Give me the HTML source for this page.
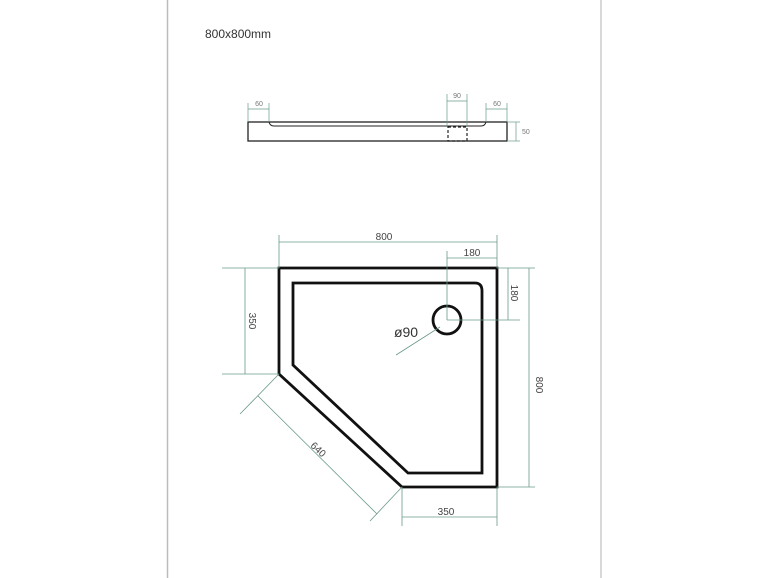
<!DOCTYPE html>
<html><head><style>body{margin:0;background:#fff}svg{display:block}</style></head><body>
<svg width="770" height="578" viewBox="0 0 770 578" xmlns="http://www.w3.org/2000/svg" font-family="Liberation Sans, sans-serif">
<line x1="167.5" y1="0" x2="167.5" y2="578" stroke="#bbb" stroke-width="1.5"/>
<line x1="601" y1="0" x2="601" y2="578" stroke="#ccc" stroke-width="1.5"/>
<text x="205" y="38" font-size="12" fill="#333">800x800mm</text>
<!-- side view -->
<g stroke="#222" fill="none">
<rect x="248" y="122" width="259" height="19" stroke-width="1.3"/>
<path d="M269 122 Q270 126 274 126 L481 126 Q485 126 486 122" stroke-width="1"/>
<rect x="448" y="127" width="19" height="14" stroke-dasharray="3,2" stroke-width="1.2"/>
</g>
<g stroke="#6a9a8a" stroke-width="0.7" fill="none">
<line x1="248" y1="103" x2="248" y2="122"/><line x1="269" y1="103" x2="269" y2="122"/><line x1="248" y1="109" x2="269" y2="109"/>
<line x1="447" y1="94" x2="447" y2="127"/><line x1="467" y1="94" x2="467" y2="127"/><line x1="447" y1="101" x2="467" y2="101"/>
<line x1="486" y1="103" x2="486" y2="122"/><line x1="507" y1="103" x2="507" y2="122"/><line x1="486" y1="109" x2="507" y2="109"/>
<line x1="507" y1="122" x2="520" y2="122"/><line x1="507" y1="141" x2="520" y2="141"/><line x1="516" y1="122" x2="516" y2="141"/>
</g>
<g font-size="7" fill="#777" text-anchor="middle">
<text x="259" y="106">60</text><text x="457" y="98">90</text><text x="497" y="106">60</text><text x="522" y="134" text-anchor="start">50</text>
</g>
<!-- plan -->
<g stroke="#111" fill="none" stroke-width="2.8">
<path d="M279 268 L497 268 L497 487 L402 487 L279 374 Z"/>
<path d="M293 283 L475 283 Q482 283 482 291 L482 473 L408 473 L293 365 Z"/>
<circle cx="447" cy="320" r="14"/>
</g>
<g stroke="#6a9a8a" stroke-width="0.8" fill="none">
<line x1="279" y1="235" x2="279" y2="268"/><line x1="497" y1="235" x2="497" y2="268"/><line x1="279" y1="242" x2="497" y2="242"/>
<line x1="447" y1="251" x2="447" y2="320"/><line x1="447" y1="258" x2="497" y2="258"/>
<line x1="497" y1="268" x2="535" y2="268"/><line x1="447" y1="320" x2="520" y2="320"/>
<line x1="508" y1="268" x2="508" y2="320"/>
<line x1="497" y1="487" x2="535" y2="487"/><line x1="529" y1="268" x2="529" y2="487"/>
<line x1="222" y1="268" x2="279" y2="268"/><line x1="222" y1="374" x2="279" y2="374"/><line x1="245" y1="268" x2="245" y2="374"/>
<line x1="279" y1="374" x2="240" y2="414"/><line x1="402" y1="487" x2="370" y2="521"/><line x1="258" y1="396" x2="377" y2="514"/>
<line x1="402" y1="487" x2="402" y2="526"/><line x1="497" y1="487" x2="497" y2="526"/><line x1="402" y1="517" x2="497" y2="517"/>
<line x1="396" y1="355" x2="440" y2="327"/>
</g>
<g font-size="10" fill="#444" text-anchor="middle">
<text x="384" y="240">800</text>
<text x="472" y="256">180</text>
<text x="446" y="515">350</text>
<text transform="translate(511,293) rotate(90)">180</text>
<text transform="translate(536,385) rotate(90)">800</text>
<text transform="translate(249,321) rotate(90)">350</text>
<text transform="translate(316,452) rotate(43)">640</text>
<text x="406" y="337" font-size="14" fill="#333">ø90</text>
</g>
</svg>
</body></html>
